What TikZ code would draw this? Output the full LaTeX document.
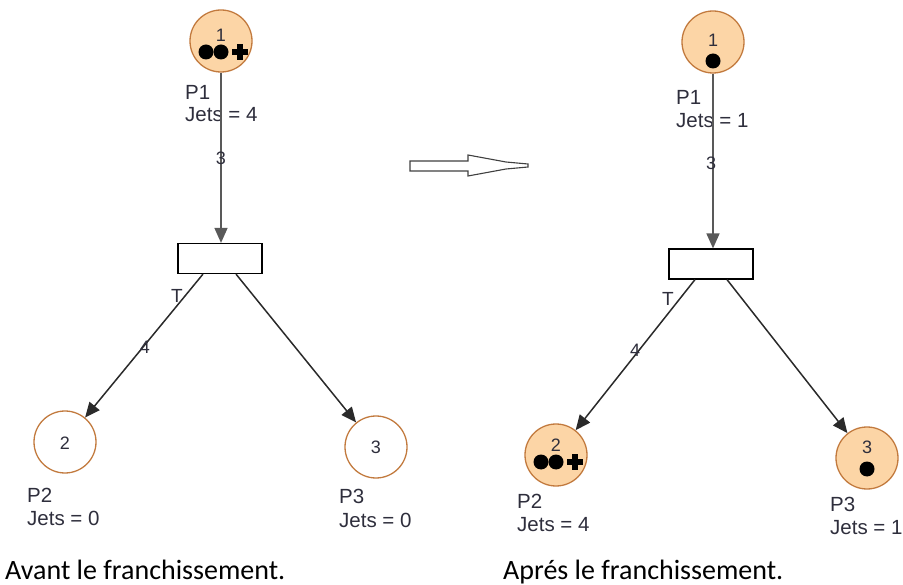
\documentclass[tikz,border=0pt]{standalone}
\usepackage{fontspec}
\setmainfont{Liberation Sans}
\newfontfamily\capfont{Carlito}
\usetikzlibrary{arrows.meta,calc}
\definecolor{placefill}{HTML}{FCD5A6}
\definecolor{placeedge}{HTML}{C27A3E}
\definecolor{inktext}{HTML}{2E2E3C}
\definecolor{arcline}{HTML}{2A2A2A}
\tikzset{
  place/.style={circle, draw=placeedge, line width=1.3pt, fill=white, minimum size=62pt, inner sep=0pt},
  marked/.style={place, fill=placefill},
  trans/.style={rectangle, draw=black, line width=1.2pt, fill=white, minimum width=84pt, minimum height=30pt, inner sep=0pt},
  arc/.style={draw=arcline, line width=1.5pt, -{Triangle[length=15pt,width=13pt]}},
  numtxt/.style={text=inktext, font=\fontsize{18}{20}\selectfont, inner sep=0pt},
  weight/.style={text=inktext, font=\fontsize{18}{20}\selectfont, inner sep=0pt},
  tname/.style={text=inktext, font=\fontsize{19}{21}\selectfont, inner sep=0pt},
  info/.style={text=inktext, font=\fontsize{20.5}{23}\selectfont, inner sep=0pt, anchor=base west},
  caption/.style={text=black, font=\capfont\fontsize{28}{31}\selectfont, inner sep=0pt, anchor=base west},
  token/.style={fill=black}
}
% one token dot, and the "two dots and a plus" marking for more tokens
\newcommand{\tokdot}[2]{\fill[token] (#1,#2) circle (7.5pt);}
\newcommand{\tokmany}[2]{%
  \fill[token] ($(#1,#2)+(-16,0)$) circle (7.5pt);
  \fill[token] ($(#1,#2)+(-1,0)$) circle (7.5pt);
  \fill[token] ($(#1,#2)+(10,-2.6)$) rectangle ($(#1,#2)+(26,2.6)$);
  \fill[token] ($(#1,#2)+(15.4,-8)$) rectangle ($(#1,#2)+(20.6,8)$);}
\begin{document}
\begin{tikzpicture}[x=1pt, y=-1pt]
\useasboundingbox (0,0) rectangle (903,585);

% ---------- before firing ----------
\node[marked] (P1a) at (221,41) {};
\node[numtxt] (n1a) at (221,35) {1};
\tokmany{222}{52}
\node[info] (l1a) at (185,100) {P1};
\node[info] (j1a) at (185,122) {Jets = 4};

\node[trans] (Ta) at (220,258.5) {};
\node[tname] (tla) at (177,296) {T};

\node[place] (P2a) at (65,442) {};
\node[numtxt] (n2a) at (65,443) {2};
\node[info] (l2a) at (27,502) {P2};
\node[info] (j2a) at (27,525) {Jets = 0};

\node[place] (P3a) at (376,447) {};
\node[numtxt] (n3a) at (376,447) {3};
\node[info] (l3a) at (339,503) {P3};
\node[info] (j3a) at (339,527) {Jets = 0};

\draw[arc, draw=gray!70!black] (P1a) -- (P1a |- Ta.north);
\draw[arc] ([xshift=-17pt]Ta.south) -- (P2a);
\draw[arc] ([xshift=16pt]Ta.south) -- (P3a);
\node[weight] (w1a) at (221,158) {3};
\node[weight] (w2a) at (145,347) {4};

\node[caption] (ca) at (5,579) {Avant le franchissement.};

% ---------- firing arrow ----------
\draw[line width=1.1pt, draw=black!75, fill=white]
  (410,161) -- (468,161) -- (468,155) -- (506,162) -- (528,164) -- (528,167)
  -- (506,169) -- (468,176) -- (468,171) -- (410,171) -- cycle;

% ---------- after firing ----------
\node[marked] (P1b) at (713,42) {};
\node[numtxt] (n1b) at (713,40) {1};
\tokdot{713}{61}
\node[info] (l1b) at (676,105) {P1};
\node[info] (j1b) at (676,128) {Jets = 1};

\node[trans] (Tb) at (711,264) {};
\node[tname] (tlb) at (668,299) {T};

\node[marked] (P2b) at (556,455) {};
\node[numtxt] (n2b) at (556,445) {2};
\tokmany{557}{462}
\node[info] (l2b) at (517,508) {P2};
\node[info] (j2b) at (517,531) {Jets = 4};

\node[marked] (P3b) at (867,458) {};
\node[numtxt] (n3b) at (867,447) {3};
\tokdot{867}{469}
\node[info] (l3b) at (830,511) {P3};
\node[info] (j3b) at (830,534) {Jets = 1};

\draw[arc, draw=gray!70!black] (P1b) -- (P1b |- Tb.north);
\draw[arc] ([xshift=-16pt]Tb.south) -- (P2b);
\draw[arc] ([xshift=16pt]Tb.south) -- (P3b);
\node[weight] (w1b) at (711,163) {3};
\node[weight] (w2b) at (635,350) {4};

\node[caption] (cb) at (503,579) {Aprés le franchissement.};
\end{tikzpicture}
\end{document}
